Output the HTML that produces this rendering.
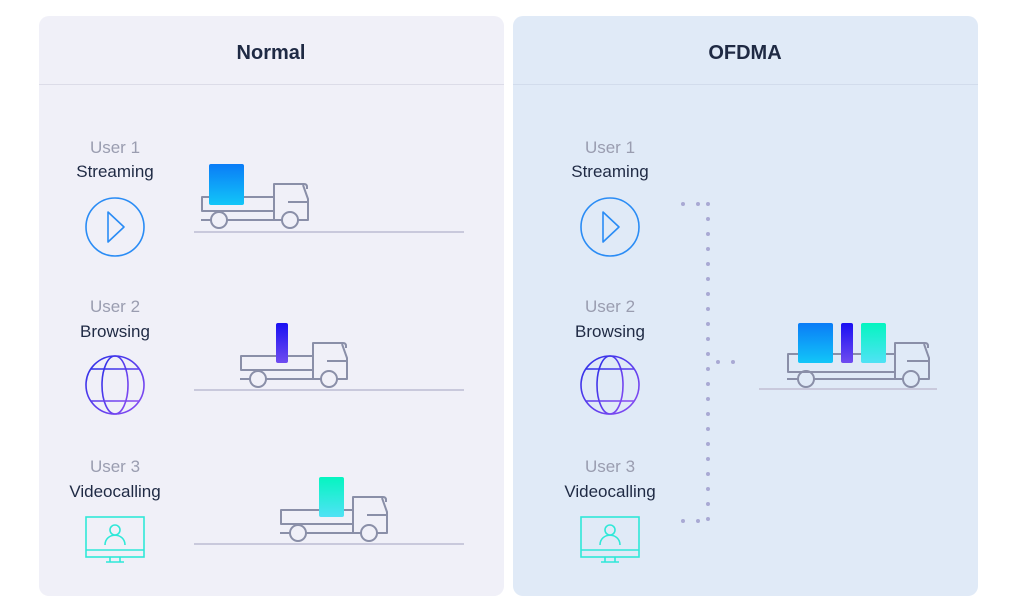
<!DOCTYPE html>
<html><head><meta charset="utf-8"><style>
html,body{margin:0;padding:0;background:#fff;}
svg{display:block;font-family:"Liberation Sans",sans-serif;}
</style></head><body>
<svg width="1015" height="600" viewBox="0 0 1015 600" xmlns="http://www.w3.org/2000/svg">
<defs>
<linearGradient id="gb" x1="0" y1="0" x2="0" y2="1"><stop offset="0" stop-color="#0a7cf7"/><stop offset="1" stop-color="#12c6f8"/></linearGradient>
<linearGradient id="gp" x1="0" y1="0" x2="0" y2="1"><stop offset="0" stop-color="#1a10f2"/><stop offset="1" stop-color="#6f4cf0"/></linearGradient>
<linearGradient id="gt" x1="0" y1="0" x2="0" y2="1"><stop offset="0" stop-color="#05f5c0"/><stop offset="1" stop-color="#50e2f5"/></linearGradient>
<linearGradient id="gi" x1="0" y1="0" x2="1" y2="1"><stop offset="0" stop-color="#2b2fe8"/><stop offset="1" stop-color="#8a4cf2"/></linearGradient>
</defs>
<rect x="39" y="16" width="465" height="580" rx="10" fill="#f0f0f8"/>
<rect x="513" y="16" width="465" height="580" rx="10" fill="#e0eaf7"/>
<line x1="39" y1="84.5" x2="504" y2="84.5" stroke="#dcdce8"/>
<line x1="513" y1="84.5" x2="978" y2="84.5" stroke="#d2dcec"/>
<text x="271" y="59" text-anchor="middle" font-size="20" font-weight="bold" fill="#1f2a44">Normal</text>
<text x="745" y="59" text-anchor="middle" font-size="20" font-weight="bold" fill="#1f2a44">OFDMA</text>

<g font-size="17" text-anchor="middle">
<text x="115" y="153" fill="#9a9db0">User 1</text><text x="115" y="177" fill="#1f2a44">Streaming</text>
<text x="115" y="312" fill="#9a9db0">User 2</text><text x="115" y="337" fill="#1f2a44">Browsing</text>
<text x="115" y="472" fill="#9a9db0">User 3</text><text x="115" y="497" fill="#1f2a44">Videocalling</text>
<text x="610" y="153" fill="#9a9db0">User 1</text><text x="610" y="177" fill="#1f2a44">Streaming</text>
<text x="610" y="312" fill="#9a9db0">User 2</text><text x="610" y="337" fill="#1f2a44">Browsing</text>
<text x="610" y="472" fill="#9a9db0">User 3</text><text x="610" y="497" fill="#1f2a44">Videocalling</text>
</g>

<g id="icons" fill="none" stroke-width="1.6">
<circle cx="115" cy="227" r="29" stroke="#2a8cf5"/>
<path d="M108 212 L124 227 L108 242 Z" stroke="#2a8cf5" stroke-linejoin="round"/>
<g stroke="url(#gi)">
<circle cx="115" cy="385" r="29"/>
<ellipse cx="115" cy="385" rx="13" ry="29"/>
<line x1="115" y1="356" x2="115" y2="414"/>
<line x1="86" y1="385" x2="144" y2="385"/>
<path d="M91 369 H139 M91 401 H139"/>
</g>
<g stroke="#2fe8d8">
<rect x="86" y="517" width="58" height="40"/>
<line x1="86" y1="550" x2="144" y2="550"/>
<path d="M110 557 V562 H120 V557 M106 562 H124"/>
<circle cx="115" cy="530" r="5"/>
<path d="M105 545 C105 532 125 532 125 545"/>
</g>
</g>
<use href="#icons" transform="translate(495,0)"/>

<g stroke="#c9c9dc" stroke-width="2">
<line x1="194" y1="232" x2="464" y2="232"/>
<line x1="194" y1="390" x2="464" y2="390"/>
<line x1="194" y1="544" x2="464" y2="544"/>
<line x1="759" y1="389" x2="937" y2="389"/>
</g>

<g fill="none" stroke="#8a8fa8" stroke-width="2" stroke-linejoin="round">
<g id="t1" transform="translate(202,184)">
<rect x="0" y="13" width="72" height="14"/>
<path d="M-1 36 H9 M25 36 H80 M96 36 H106 V15 L101 1 M72 36 V0 H102 Q105 0 105 3 V5 M86 18 H106"/>
<circle cx="17" cy="36" r="8"/>
<circle cx="88" cy="36" r="8"/>
</g>
<use href="#t1" transform="translate(39,159)"/>
<use href="#t1" transform="translate(79,313)"/>
<g transform="translate(788,343)">
<rect x="0" y="11" width="107" height="18"/>
<path d="M-1 36 H10 M26 36 H115 M131 36 H141 V15 L136 1 M107 36 V0 H137 Q140 0 140 3 V5 M119 18 H141"/>
<circle cx="18" cy="36" r="8"/>
<circle cx="123" cy="36" r="8"/>
</g>
</g>

<rect x="209" y="164" width="35" height="41" rx="2" fill="url(#gb)"/>
<rect x="276" y="323" width="12" height="40" rx="2" fill="url(#gp)"/>
<rect x="319" y="477" width="25" height="40" rx="2" fill="url(#gt)"/>
<rect x="798" y="323" width="35" height="40" rx="2" fill="url(#gb)"/>
<rect x="841" y="323" width="12" height="40" rx="2" fill="url(#gp)"/>
<rect x="861" y="323" width="25" height="40" rx="2" fill="url(#gt)"/>

<g stroke="#a9a9d4" stroke-width="4" stroke-linecap="round" stroke-dasharray="0 15" fill="none">
<line x1="708" y1="204" x2="708" y2="522"/>
<line x1="683" y1="204" x2="708" y2="204"/>
<line x1="683" y1="521" x2="708" y2="521"/>
<line x1="718" y1="362" x2="748" y2="362"/>
</g>
</svg>
</body></html>
